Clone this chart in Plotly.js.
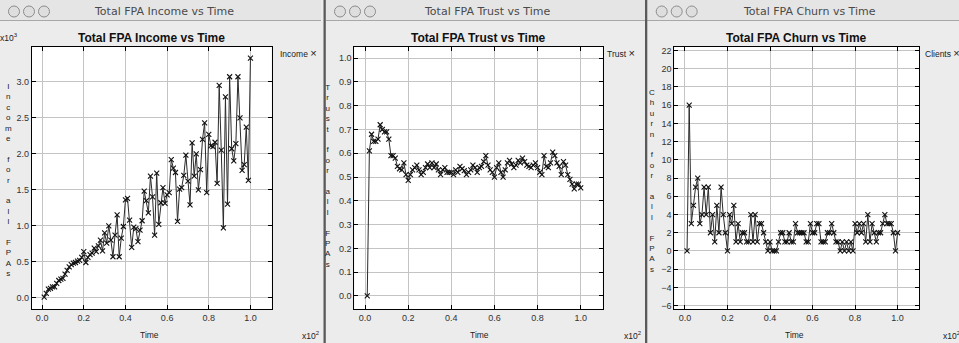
<!DOCTYPE html>
<html>
<head>
<meta charset="utf-8">
<script src="https://cdn.plot.ly/plotly-3.0.1.min.js"></script>
<style>html,body{margin:0;padding:0;background:#ececec;}#chart{width:959px;height:343px;}</style>
</head>
<body>
<div id="chart"></div>
<script>
// ---- data ----
const time = [0.01,0.02,0.03,0.04,0.05,0.06,0.07,0.08,0.09,0.10,
  0.11,0.12,0.13,0.14,0.15,0.16,0.17,0.18,0.19,0.20,
  0.21,0.22,0.23,0.24,0.25,0.26,0.27,0.28,0.29,0.30,
  0.31,0.32,0.33,0.34,0.35,0.36,0.37,0.38,0.39,0.40,
  0.41,0.42,0.43,0.44,0.45,0.46,0.47,0.48,0.49,0.50,
  0.51,0.52,0.53,0.54,0.55,0.56,0.57,0.58,0.59,0.60,
  0.61,0.62,0.63,0.64,0.65,0.66,0.67,0.68,0.69,0.70,
  0.71,0.72,0.73,0.74,0.75,0.76,0.77,0.78,0.79,0.80,
  0.81,0.82,0.83,0.84,0.85,0.86,0.87,0.88,0.89,0.90,
  0.91,0.92,0.93,0.94,0.95,0.96,0.97,0.98,0.99,1.00];

const income = [0.01,0.06,0.12,0.13,0.15,0.15,0.20,0.24,0.26,0.27,
  0.33,0.38,0.43,0.46,0.48,0.49,0.51,0.52,0.56,0.64,
  0.49,0.56,0.60,0.62,0.69,0.64,0.72,0.80,0.65,0.90,
  0.76,1.00,0.80,0.57,0.87,1.15,0.57,0.83,0.99,1.36,
  1.38,1.08,0.70,0.98,0.96,0.78,0.94,1.07,1.48,1.35,
  1.18,1.69,1.40,0.87,1.73,1.02,1.32,1.53,1.31,1.43,
  1.46,1.92,1.80,1.74,1.06,1.51,1.53,1.70,1.98,1.62,
  1.29,2.15,1.69,2.00,1.50,1.78,2.20,2.43,1.46,2.27,
  2.11,2.10,2.16,1.59,2.95,2.05,0.97,2.79,1.30,3.07,
  2.07,1.90,2.14,3.07,2.50,1.77,1.85,2.37,1.63,3.33];

const trust = [0.0,0.61,0.68,0.65,0.65,0.66,0.72,0.70,0.69,0.69,
  0.66,0.59,0.59,0.58,0.545,0.535,0.53,0.56,0.51,0.486,
  0.51,0.53,0.54,0.55,0.53,0.51,0.52,0.54,0.555,0.54,
  0.56,0.54,0.555,0.53,0.51,0.53,0.54,0.52,0.52,0.52,
  0.51,0.53,0.52,0.545,0.535,0.527,0.51,0.52,0.53,0.55,
  0.54,0.52,0.54,0.545,0.565,0.59,0.55,0.53,0.52,0.50,
  0.54,0.56,0.52,0.50,0.53,0.56,0.57,0.555,0.54,0.55,
  0.57,0.56,0.58,0.565,0.55,0.545,0.54,0.55,0.56,0.54,
  0.52,0.51,0.59,0.545,0.54,0.56,0.605,0.59,0.56,0.545,
  0.51,0.565,0.55,0.51,0.49,0.47,0.45,0.47,0.47,0.455];

const churn = [0,16,3,5,7,8,3,4,7,4,
  7,2,4,1,5,2,7,4,2,0,
  4,3,5,1,3,1,2,2,1,1,
  4,1,4,1,3,3,2,1,0,1,
  0,0,0,1,2,2,1,1,2,1,
  1,3,2,2,2,2,1,1,3,2,
  2,3,3,1,1,1,2,2,3,2,
  1,1,0,1,0,1,0,1,0,3,
  2,3,2,3,1,4,1,3,2,1,
  2,2,3,4,3,3,3,2,0,2];

const windowTitles = ["Total FPA Income vs Time","Total FPA Trust vs Time","Total FPA Churn vs Time"];
const chartTitles = windowTitles;
const yLabels = ["Income for all FPAs","Trust for all FPAs","Churn for all FPAs"];
const legendNames = ["Income","Trust","Clients"];
const xTitle = "Time";

// ---- layout helpers (pixel -> paper) ----
const W = 959, H = 343;
const PX = p => p / W;
const PY = p => 1 - p / H;

const FONT = "Liberation Sans, Arial, sans-serif";
const lineStyle = {color:'#2a2a2a', width:1};
const markerStyle = {symbol:'x-thin-open', size:5, color:'#111', line:{color:'#111', width:1.1}};

function trace(y, xa, ya, name){
  return {x:time, y:y, xaxis:xa, yaxis:ya, type:'scatter', mode:'lines+markers',
    name:name, line:lineStyle, marker:markerStyle, showlegend:false, hoverinfo:'skip'};
}

const data = [
  trace(income,'x','y',legendNames[0]),
  trace(trust,'x2','y2',legendNames[1]),
  trace(churn,'x3','y3',legendNames[2])
];

const yDom = [PY(309.3), PY(46.5)];
function xAxis(dom, anchor){
  return {domain:dom, anchor:anchor, range:[-0.05,1.102], tick0:0, dtick:0.2, tickformat:'.1f',
    showline:true, linecolor:'#000', linewidth:1, mirror:'ticks', ticks:'inside', ticklen:4,
    tickcolor:'#000', showgrid:true, gridcolor:'#c4c4c4', gridwidth:1, zeroline:false,
    tickfont:{family:FONT, size:9, color:'#333'}, fixedrange:true};
}
function yAxis(anchor, range, dtick, fmt){
  return {domain:yDom, anchor:anchor, range:range, tick0:0, dtick:dtick, tickformat:fmt,
    showline:true, linecolor:'#000', linewidth:1, mirror:'ticks', ticks:'inside', ticklen:4,
    tickcolor:'#000', showgrid:true, gridcolor:'#c4c4c4', gridwidth:1, zeroline:false,
    tickfont:{family:FONT, size:9, color:'#333'}, fixedrange:true};
}

const plots = [
  {x0:31.7, x1:271.7, win:[0,321], circ:14, wtitle:163.5, label:8, lab_y:180, leg:277.7, time:149, exp2:300},
  {x0:354.3, x1:602.7, win:[326,645], circ:340, wtitle:487, label:327.5, lab_y:176, leg:605, time:479, exp2:621.5},
  {x0:674.3, x1:919.3, win:[647,959], circ:661.7, wtitle:809, label:652, lab_y:180.5, leg:923, time:794, exp2:941}
];

const shapes = [];
const annotations = [];
plots.forEach((p,i) => {
  // title bar
  shapes.push({type:'rect', xref:'paper', yref:'paper', x0:PX(p.win[0]), x1:PX(p.win[1]), y0:PY(20.5), y1:PY(0),
    fillcolor:'#e5e5e5', line:{width:0}, layer:'below'});
  shapes.push({type:'line', xref:'paper', yref:'paper', x0:PX(p.win[0]), x1:PX(p.win[1]), y0:PY(20.5), y1:PY(20.5),
    line:{color:'#a8a8a8', width:1}, layer:'below'});
  // traffic lights
  for (let k=0;k<3;k++){
    const cx = p.circ + k*15, cy = 11.5, r = 5.5;
    shapes.push({type:'circle', xref:'paper', yref:'paper', x0:PX(cx-r), x1:PX(cx+r), y0:PY(cy+r), y1:PY(cy-r),
      fillcolor:'#dedede', line:{color:'#8c8c8c', width:1}, layer:'above'});
  }
  annotations.push({xref:'paper', yref:'paper', x:PX(p.wtitle), y:PY(11.5), xanchor:'center', yanchor:'middle',
    text:windowTitles[i], showarrow:false, font:{family:"DejaVu Sans, sans-serif", size:11, color:'#4a4a4a'}});
  // chart title
  annotations.push({xref:'paper', yref:'paper', x:PX((p.x0+p.x1)/2), y:PY(38), xanchor:'center', yanchor:'middle',
    text:'<b>'+chartTitles[i]+'</b>', showarrow:false, font:{family:FONT, size:12, color:'#111'}});
  // vertical y label
  const letters = yLabels[i].split('').join('<br>');
  annotations.push({xref:'paper', yref:'paper', x:PX(p.label), y:PY(p.lab_y), xanchor:'center', yanchor:'middle',
    text:letters, showarrow:false, font:{family:FONT, size:8, color:'#222'}});
  // x title
  annotations.push({xref:'paper', yref:'paper', x:PX(p.time), y:PY(335), xanchor:'center', yanchor:'middle',
    text:xTitle, showarrow:false, font:{family:FONT, size:8.5, color:'#222'}});
  // x exponent
  annotations.push({xref:'paper', yref:'paper', x:PX(p.exp2), y:PY(335.5), xanchor:'left', yanchor:'middle',
    text:'x10<sup>2</sup>', showarrow:false, font:{family:FONT, size:8.5, color:'#222'}});
  // legend
  annotations.push({xref:'paper', yref:'paper', x:PX(p.leg), y:PY(53.5), xanchor:'left', yanchor:'middle',
    text:legendNames[i]+' <span style="font-size:11px">\u00d7</span>', showarrow:false, font:{family:FONT, size:8.5, color:'#222'}});
});
// window separators
shapes.push({type:'rect', xref:'paper', yref:'paper', x0:PX(323.5), x1:PX(325.8), y0:PY(343), y1:PY(0),
  fillcolor:'#5a5a5a', line:{width:0}, layer:'below'});
shapes.push({type:'rect', xref:'paper', yref:'paper', x0:PX(645), x1:PX(647.3), y0:PY(343), y1:PY(0),
  fillcolor:'#5a5a5a', line:{width:0}, layer:'below'});
// y exponent of income panel
annotations.push({xref:'paper', yref:'paper', x:PX(-2), y:PY(38), xanchor:'left', yanchor:'middle',
  text:'x10<sup>3</sup>', showarrow:false, font:{family:FONT, size:8.5, color:'#222'}});

const layout = {
  width:W, height:H, margin:{l:0,r:0,t:0,b:0},
  paper_bgcolor:'#ececec', plot_bgcolor:'#ffffff', showlegend:false,
  xaxis: xAxis([PX(plots[0].x0), PX(plots[0].x1)], 'y'),
  yaxis: yAxis('x', [-0.16, 3.49], 0.5, '.1f'),
  xaxis2: xAxis([PX(plots[1].x0), PX(plots[1].x1)], 'y2'),
  yaxis2: yAxis('x2', [-0.056, 1.049], 0.1, '.1f'),
  xaxis3: xAxis([PX(plots[2].x0), PX(plots[2].x1)], 'y3'),
  yaxis3: yAxis('x3', [-6.4, 22.44], 2, 'd'),
  shapes:shapes, annotations:annotations
};

Plotly.newPlot('chart', data, layout, {displayModeBar:false, staticPlot:true});
</script>
</body>
</html>
